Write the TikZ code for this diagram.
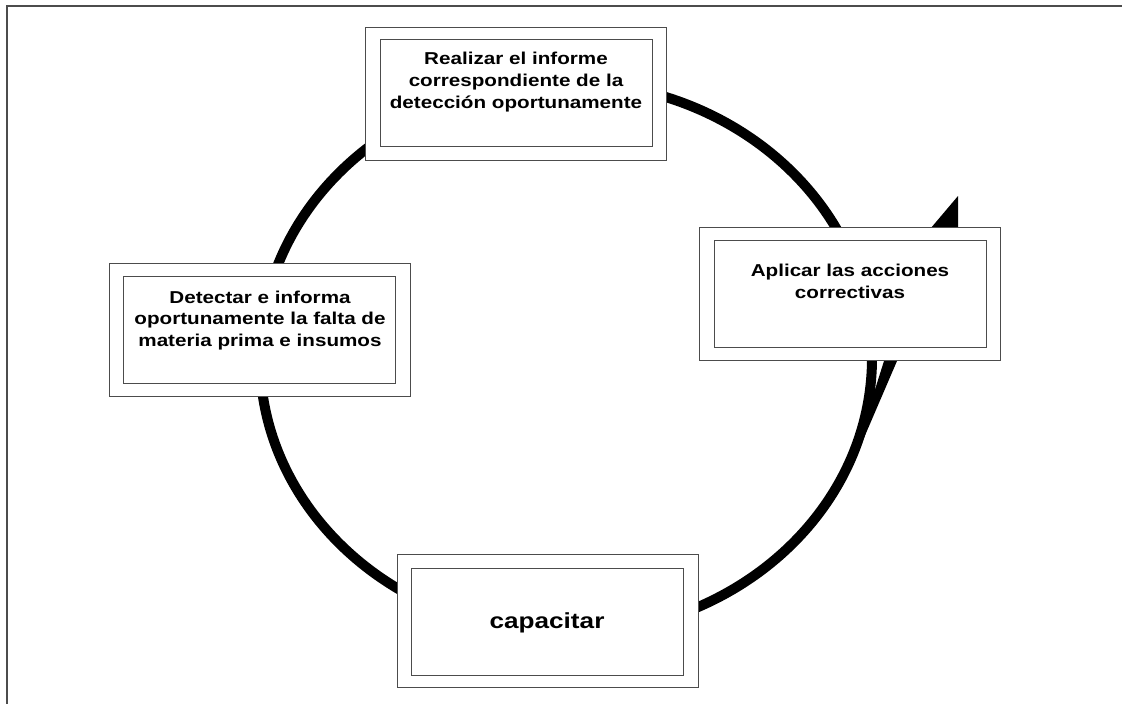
\documentclass[tikz,border=0pt]{standalone}
\usepackage{fontspec}
\newfontfamily\boxfont[FakeStretch=1.2]{Liberation Sans}
\begin{document}
\begin{tikzpicture}[x=1pt,y=-1pt,
  framebox/.style={draw=black!70, line width=1.1pt, fill=white, minimum width=301pt, minimum height=133pt, inner sep=0pt, anchor=north west},
  innerbox/.style={draw=black!70, line width=1.1pt, minimum width=272pt, minimum height=107pt, inner sep=0pt, anchor=north west},
  boxtext/.style={inner sep=0pt, align=center, anchor=north, font=\boxfont\bfseries\fontsize{17.2}{21.7}\selectfont},
  bigtext/.style={inner sep=0pt, anchor=base, font=\boxfont\bfseries\fontsize{21.8}{26}\selectfont},
  ring/.style={line width=10pt, black}]
\useasboundingbox (0,0) rectangle (1122,704);
% page frame
\coordinate (fbl) at (7,704);
\coordinate (ftl) at (7,6);
\coordinate (ftr) at (1122,6);
\draw[black!70, line width=1.2pt] (fbl) -- (ftl) -- (ftr);
% cycle ring
\coordinate (ringc) at (566,358);
\draw[ring] (ringc) ellipse [x radius=306, y radius=276];
% arrow wedge and head
\coordinate (tip) at (958,196);
\fill[black] (tip) -- (958,230) -- (897,361) -- (848,475) -- (884,361) -- (884,300) -- (925,235) -- cycle;
% boxes
\node[framebox] (A) at (365,27) {};
\node[innerbox] (Ai) at (380,39) {};
\node[boxtext] (At) at (516,52) {Realizar el informe\\correspondiente de la\\detección oportunamente};

\node[framebox] (B) at (109,263) {};
\node[innerbox] (Bi) at (123,276) {};
\node[boxtext] (Bt) at (260,290.5) {Detectar e informa\\oportunamente la falta de\\materia prima e insumos};

\node[framebox] (C) at (699,227) {};
\node[innerbox] (Ci) at (714,240) {};
\node[boxtext] (Ct) at (850,264.2) {Aplicar las acciones\\correctivas};

\node[framebox] (D) at (397,554) {};
\node[innerbox] (Di) at (411,568) {};
\node[bigtext] (Dt) at (547,628.3) {capacitar};
\end{tikzpicture}
\end{document}
